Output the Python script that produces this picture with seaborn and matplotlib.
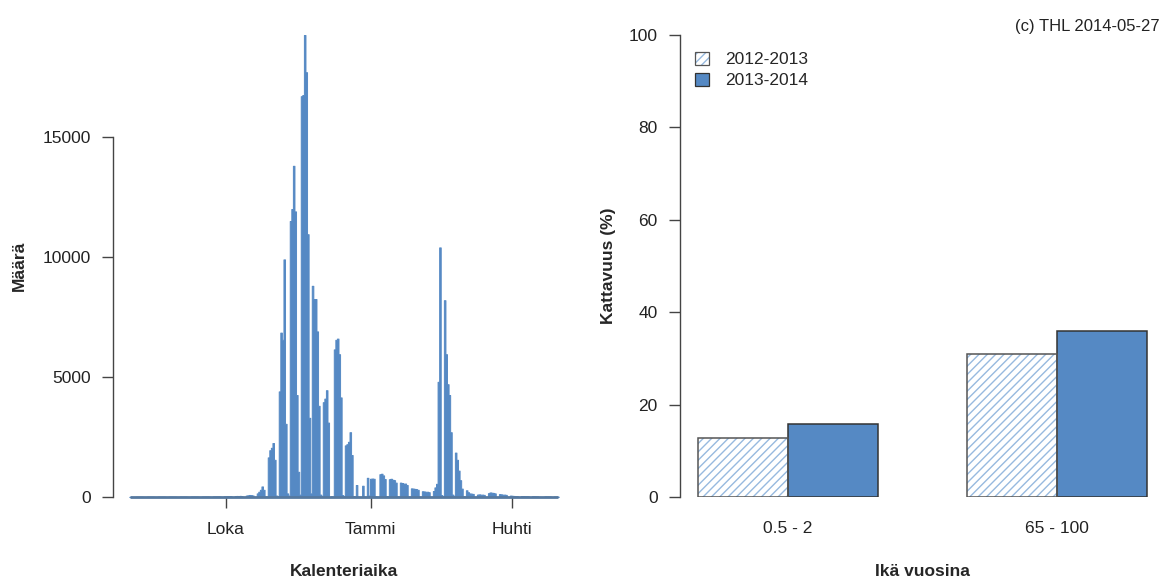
import numpy as np
import pandas as pd
import matplotlib
matplotlib.use("Agg")
import matplotlib.pyplot as plt
import seaborn as sns
from matplotlib.patches import Patch, Rectangle
from matplotlib.legend_handler import HandlerBase

# ---------------- data ----------------
start_date = "2013-08-01"
aug = [8, 6, 0, 0, 9, 10, 8, 11, 7, 0, 0, 10, 12, 9, 11, 8, 0, 0, 12, 10, 11, 13, 9, 0, 1,
       11, 14, 12, 10, 9, 0]
sep = [0, 14, 15, 13, 16, 12, 1, 0, 15, 18, 16, 17, 14, 1, 0, 18, 20, 19, 22, 17, 2, 1,
       22, 25, 24, 26, 21, 2, 1, 28]
oct_ = [30, 35, 32, 38, 3, 2,
        40, 45, 42, 48, 38, 4, 3,
        60, 70, 85, 75, 65, 8, 6,
        150, 220, 300, 440, 300, 25, 20,
        1650, 1950, 2050, 2250]
nov = [1550, 60, 30,
       4400, 6850, 6550, 9900, 3050, 150, 60,
       11500, 12000, 13800, 11900, 4250, 1050, 100,
       16700, 16750, 19250, 17700, 10950, 3300, 150,
       8800, 8250, 8250, 6900, 3800, 100]
dec = [50,
       3950, 4100, 4450, 3100, 0, 30, 20,
       6150, 6550, 6600, 5950, 4150, 80, 40,
       2150, 2200, 2300, 2700, 1750, 40, 20,
       500, 10, 0, 0, 470, 20, 10,
       800, 60]
jan = [760, 770, 760, 30, 20,
       0, 950, 970, 900, 750, 40, 30,
       740, 760, 720, 700, 600, 25, 15,
       600, 580, 560, 560, 500, 20, 10,
       360, 350, 340, 330, 300]
feb = [15, 10,
       240, 230, 220, 220, 200, 10, 10,
       250, 400, 550, 4800, 10400, 80, 40,
       8200, 5950, 4700, 4250, 2700, 100, 50,
       1850, 1550, 1100, 700, 350]
mar = [30, 20,
       280, 200, 150, 140, 130, 10, 10,
       100, 110, 100, 100, 90, 5, 5,
       160, 190, 180, 170, 150, 5, 5,
       120, 110, 100, 100, 90, 5, 5,
       60]
apr = [50, 45, 40, 40, 3, 2,
       40, 38, 35, 35, 30, 2, 2,
       32, 30, 28, 25, 5, 1, 1,
       2, 25, 24, 22, 20, 1, 1,
       20, 18, 15]

month_ticks = ["2013-10-01", "2014-01-01", "2014-04-01"]
month_labels = ["Loka", "Tammi", "Huhti"]

age_groups = ["0.5 - 2", "65 - 100"]
seasons = ["2012-2013", "2013-2014"]
coverage_1213 = [12.8, 30.9]
coverage_1314 = [15.7, 35.9]

# ---------------- style ----------------
sns.set_theme(style="white")
plt.rcParams["font.family"] = ["Liberation Sans", "DejaVu Sans"]
BLUE = "#5589c4"
HATCH = "#97b9df"
EDGE = "#333333"
AXC = "#444444"
FS = 12.5

counts = aug + sep + oct_ + nov + dec + jan + feb + mar + apr
dates = pd.date_range(start_date, periods=len(counts), freq="D")
origin = pd.Timestamp(month_ticks[0])
days = np.asarray((dates - origin).days)
df = pd.DataFrame({"day": days, "count": counts})
tick_pos = [(pd.Timestamp(t) - origin).days for t in month_ticks]

W, H = 1164, 579
fig = plt.figure(figsize=(W / 100, H / 100), dpi=100)
ax1 = fig.add_axes([113 / W, (H - 497) / H, 462 / W, 462 / H])
ax2 = fig.add_axes([680 / W, (H - 497) / H, 485 / W, 462 / H])

# ---------------- left: daily counts ----------------
sns.histplot(data=df, x="day", weights="count", discrete=True, element="step",
             fill=True, color=BLUE, alpha=1, linewidth=0.7, ax=ax1)
ax1.hlines(0, days.min(), days.max(), color="#56799f", lw=2, clip_on=False, zorder=3)
rng = days.max() - days.min()
ax1.set_xlim(days.min() - 0.04 * rng, days.max() + 0.04 * rng)
ax1.set_ylim(0, max(counts))
ax1.set_xticks(tick_pos)
ax1.set_xticklabels(month_labels)
ax1.set_yticks([0, 5000, 10000, 15000])
ax1.set_yticklabels(["0", "5000", "10000", "15000"])
for s in ["top", "right", "bottom"]:
    ax1.spines[s].set_visible(False)
ax1.spines["left"].set_bounds(0, 15000)
ax1.spines["left"].set_color(AXC)
ax1.spines["left"].set_linewidth(1)
ax1.tick_params(axis="both", direction="out", length=8, width=1, color=AXC,
                labelsize=FS, labelcolor="#222222", bottom=True, left=True)
ax1.tick_params(axis="x", pad=10)
ax1.tick_params(axis="y", pad=8)
ax1.set_xlabel("Kalenteriaika", fontsize=FS, fontweight="bold", va="center")
ax1.xaxis.set_label_coords(0.5, (497 - 572) / 462)
ax1.set_ylabel("Määrä", fontsize=FS, fontweight="bold", va="center")
ax1.yaxis.set_label_coords((19 - 113) / 462, 0.5)

# ---------------- right: coverage bars ----------------
bdf = pd.DataFrame({
    "age": age_groups * 2,
    "season": [seasons[0]] * 2 + [seasons[1]] * 2,
    "cov": coverage_1213 + coverage_1314,
})
sns.barplot(data=bdf, x="age", y="cov", hue="season", order=age_groups,
            hue_order=seasons, palette={seasons[0]: "white", seasons[1]: BLUE},
            width=2 / 3, edgecolor=EDGE, linewidth=1.1, saturation=1,
            errorbar=None, legend=False, ax=ax2)
for bar in ax2.containers[0]:
    outline = Rectangle(bar.get_xy(), bar.get_width(), bar.get_height(),
                        fill=False, edgecolor="#555555", lw=1.1, zorder=bar.get_zorder() + 0.1)
    bar.set_edgecolor(HATCH)
    bar.set_linewidth(0)
    bar.set_hatch("////")
    ax2.add_patch(outline)
ax2.set_xlim(-0.4, 1.4)
ax2.set_ylim(0, 100)
ax2.set_yticks([0, 20, 40, 60, 80, 100])
for s in ["top", "right", "bottom"]:
    ax2.spines[s].set_visible(False)
ax2.spines["left"].set_bounds(0, 100)
ax2.spines["left"].set_color(AXC)
ax2.spines["left"].set_linewidth(1)
ax2.tick_params(axis="y", direction="out", length=8, width=1, color=AXC,
                labelsize=FS, labelcolor="#222222", left=True, pad=8)
ax2.tick_params(axis="x", length=0, labelsize=FS, labelcolor="#222222", pad=17)
ax2.set_xlabel("Ikä vuosina", fontsize=FS, fontweight="bold", va="center")
ax2.xaxis.set_label_coords(0.5, (497 - 572) / 462)
ax2.set_ylabel("Kattavuus (%)", fontsize=FS, fontweight="bold", va="center")
ax2.yaxis.set_label_coords((608 - 680) / 485, 0.5)


class HatchBoxHandler(HandlerBase):
    """Legend box: light-blue hatch with a dark outline."""
    def create_artists(self, legend, orig_handle, xdescent, ydescent, width, height,
                       fontsize, trans):
        inner = Rectangle((-xdescent, -ydescent), width, height, facecolor="white",
                          edgecolor=HATCH, hatch="////", lw=0, transform=trans)
        outer = Rectangle((-xdescent, -ydescent), width, height, fill=False,
                          edgecolor="#555555", lw=0.9, transform=trans)
        return [inner, outer]


h1 = Patch(facecolor="white", edgecolor=HATCH, hatch="////", lw=0.8)
h2 = Patch(facecolor=BLUE, edgecolor=EDGE, lw=0.9)
ax2.legend([h1, h2], seasons, loc="upper left", bbox_to_anchor=(0.006, 0.99),
           frameon=False, fontsize=FS, handlelength=0.8, handleheight=0.8,
           handletextpad=0.95, labelspacing=0.3, borderaxespad=0.3,
           handler_map={h1: HatchBoxHandler()})

fig.text(1160 / W, 1 - 27 / H, "(c) THL 2014-05-27", ha="right", va="center",
         fontsize=12, color="#222222")

fig.savefig("out.png", dpi=100)
